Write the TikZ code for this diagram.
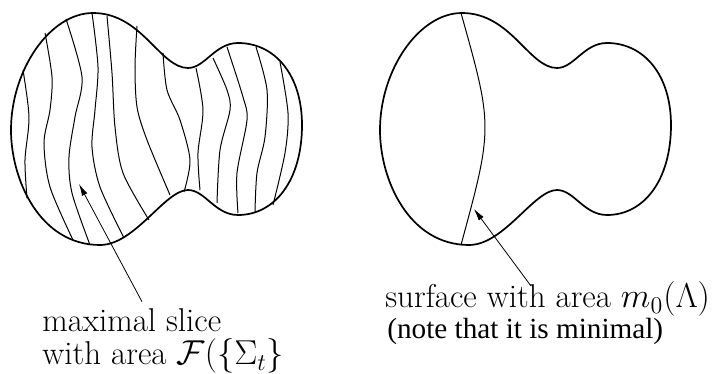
\documentclass[tikz,border=0pt]{standalone}
\usepackage{fontspec}
\newfontfamily\timesfont{Liberation Serif}
\usetikzlibrary{arrows.meta}

\tikzset{
  boundary/.style={line width=0.85pt},
  slice/.style={line width=0.5pt},
  label/.style={inner sep=0pt, align=left, font=\fontsize{16.5}{16.5}\selectfont}
}
% outline of the region, in pixel-like units
\newcommand{\regionpath}{(93,13) .. controls (142,13) and (160,68) .. (188,68)
  .. controls (205,68) and (215,43) .. (238,43)
  .. controls (275,43) and (302,75) .. (302,125)
  .. controls (302,180) and (275,215) .. (238,215)
  .. controls (215,215) and (205,190) .. (188,190)
  .. controls (165,190) and (135,245) .. (100,245)
  .. controls (40,245) and (11,180) .. (11,130)
  .. controls (11,70) and (50,13) .. (93,13) -- cycle}

\begin{document}
\begin{tikzpicture}[>={Latex[length=6pt,width=3pt]}, x=0.5pt, y=-0.5pt]
  \useasboundingbox (0,0) rectangle (720,374);
  % the two regions
  \foreach \dx in {0,369}
    \draw[boundary, shift={(\dx,0)}] \regionpath;
  % foliation by maximal slices
  \draw[slice] plot[smooth] coordinates {(23,70) (29,117) (25,160) (27,198)};
  \draw[slice] plot[smooth] coordinates {(45,33) (52,77) (50,110) (44,143) (50,187) (73,240)};
  \draw[slice] plot[smooth] coordinates {(66,19) (82,77) (75,117) (69,157) (72,193) (90,245)};
  \draw[slice] plot[smooth] coordinates {(92,13) (98,67) (95,110) (92,147) (100,187) (124,238)};
  \draw[slice] plot[smooth] coordinates {(107,16) (112,73) (115,127) (123,173) (149,220)};
  \draw[slice] plot[smooth] coordinates {(137,26) (135,67) (137,107) (147,140) (170,195)};
  \draw[slice] plot[smooth] coordinates {(163,53) (167,90) (180,120) (190,160) (184,192)};
  \draw[slice] plot[smooth] coordinates {(196,68) (203,110) (198,153) (200,190)};
  \draw[slice] plot[smooth] coordinates {(213,58) (227,90) (230,110) (220,150) (217,203)};
  \draw[slice] plot[smooth] coordinates {(227,47) (243,97) (247,120) (237,173) (238,213)};
  \draw[slice] plot[smooth] coordinates {(256,47) (267,90) (265,137) (257,173) (255,212)};
  \draw[slice] plot[smooth] coordinates {(280,62) (288,113) (285,153) (273,205)};
  % the minimal surface
  \draw[slice] (461,13) .. controls (493,127) .. (461,245);
  % labels and arrows
  \node[label, anchor=base west] (slicelabel) at (42,365)
    {maximal slice\\with area $\mathcal{F}(\{\Sigma_t\}$};
  \node[label, anchor=base west] (surflabel) at (385,308)
    {surface with area $m_0(\Lambda)$};
  \node[inner sep=0pt, anchor=base west, font=\timesfont\fontsize{14.6}{16}\selectfont]
    (notelabel) at (387,339) {(note that it is minimal)};
  \coordinate (slicetip) at (79,184);
  \coordinate (surftip) at (474,209);
  \draw[->] (slicelabel.north west) ++(100,-7) -- (slicetip);
  \draw[->] (surflabel.base west) ++(146,-22) -- (surftip);
\end{tikzpicture}
\end{document}
